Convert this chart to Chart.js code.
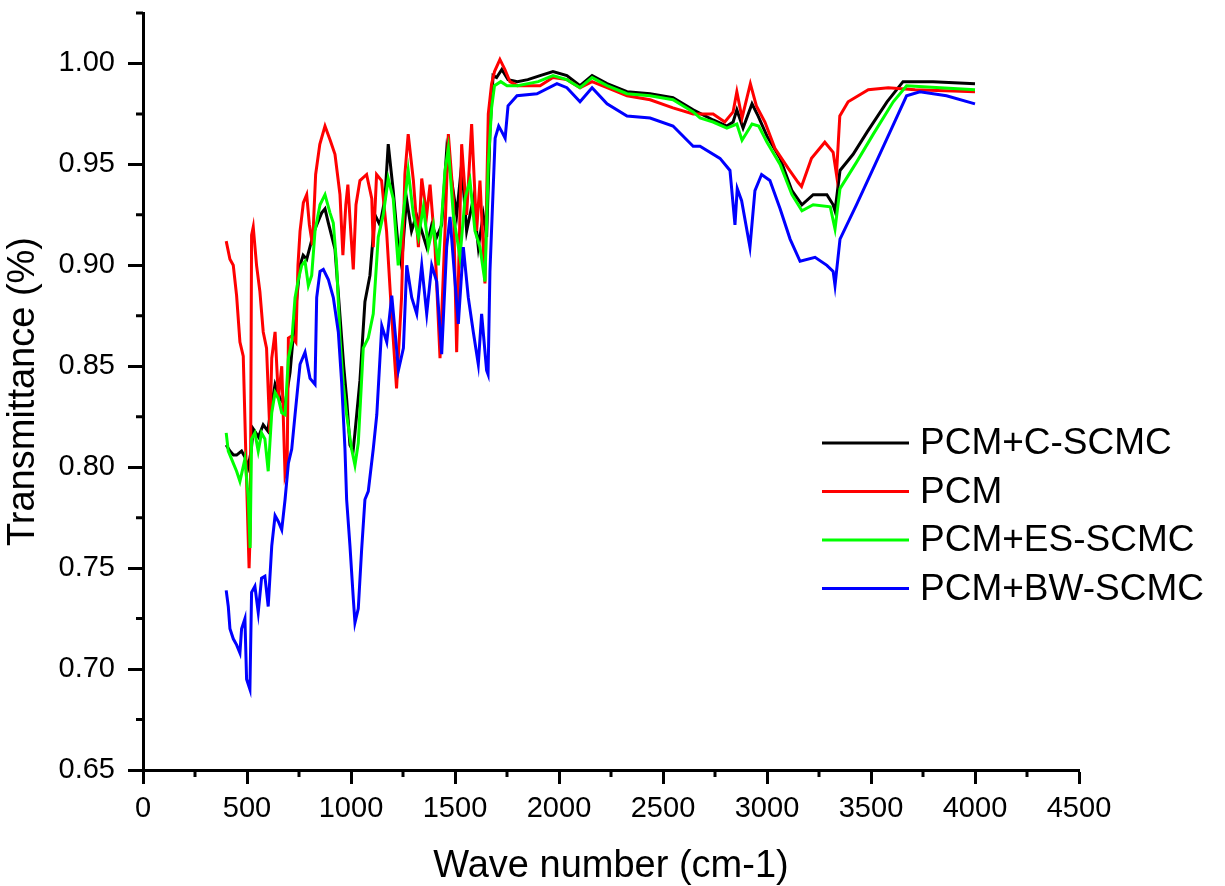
<!DOCTYPE html>
<html>
<head>
<meta charset="utf-8">
<script src="https://cdn.jsdelivr.net/npm/chart.js@4.4.1/dist/chart.umd.min.js"></script>
<style>
  html, body { margin: 0; padding: 0; background: #fff; }
  #wrap { width: 1225px; height: 886px; }
</style>
</head>
<body>
<div id="wrap"><canvas id="c" width="1225" height="886"></canvas></div>
<script>
// ---- Data ----
const seriesNames = ["PCM+C-SCMC", "PCM", "PCM+ES-SCMC", "PCM+BW-SCMC"];
const seriesColors = ["#000000", "#ff0000", "#00ff00", "#0000ff"];

const cscmcWave = [400,418,435,450,474,490,505,520,530,555,578,600,620,635,659,683,707,731,755,770,787,810,827,859,875,891,923,947,965,979,995,1010,1019,1043,1067,1091,1115,1139,1163,1179,1203,1227,1243,1267,1291,1315,1340,1364,1388,1412,1436,1460,1484,1508,1532,1556,1588,1612,1636,1652,1668,1683,1700,1725,1755,1800,1850,1909,1971,2038,2101,2159,2231,2327,2438,2548,2645,2741,2807,2837,2855,2885,2928,2957,3000,3063,3120,3168,3222,3288,3318,3327,3351,3414,3481,3577,3654,3798,4000];
const cscmcT = [0.811,0.808,0.806,0.806,0.808,0.805,0.800,0.808,0.819,0.815,0.821,0.818,0.832,0.841,0.834,0.831,0.847,0.875,0.900,0.905,0.903,0.912,0.918,0.926,0.928,0.921,0.908,0.875,0.850,0.834,0.811,0.808,0.817,0.843,0.882,0.895,0.925,0.920,0.933,0.960,0.937,0.909,0.900,0.933,0.917,0.925,0.917,0.909,0.920,0.914,0.920,0.957,0.942,0.925,0.950,0.917,0.933,0.909,0.925,0.914,0.966,0.994,0.993,0.997,0.992,0.991,0.992,0.994,0.996,0.994,0.989,0.994,0.990,0.986,0.985,0.983,0.977,0.972,0.969,0.971,0.977,0.968,0.980,0.974,0.964,0.953,0.937,0.930,0.935,0.935,0.930,0.927,0.947,0.955,0.966,0.981,0.991,0.991,0.990];

const pcmWave = [400,418,434,450,466,482,496,503,510,516,522,530,546,562,578,594,610,619,635,651,667,683,693,699,715,735,745,755,771,787,800,815,830,850,875,900,923,947,961,975,985,1000,1011,1024,1043,1075,1100,1107,1123,1147,1171,1195,1219,1243,1259,1275,1300,1324,1340,1364,1380,1404,1428,1452,1468,1492,1508,1532,1556,1580,1604,1620,1644,1660,1676,1690,1716,1740,1764,1800,1850,1909,1971,2038,2101,2159,2231,2327,2438,2548,2645,2741,2797,2837,2855,2880,2920,2949,2990,3038,3102,3150,3166,3214,3278,3318,3334,3350,3390,3487,3583,3712,4000];
const pcmT = [0.912,0.903,0.900,0.885,0.862,0.855,0.800,0.775,0.750,0.770,0.915,0.919,0.900,0.887,0.867,0.859,0.817,0.854,0.867,0.834,0.850,0.796,0.800,0.864,0.865,0.862,0.900,0.917,0.931,0.935,0.920,0.910,0.945,0.960,0.969,0.962,0.955,0.935,0.905,0.930,0.940,0.915,0.898,0.930,0.942,0.945,0.933,0.909,0.945,0.942,0.917,0.876,0.839,0.884,0.945,0.965,0.942,0.909,0.943,0.925,0.940,0.909,0.854,0.917,0.965,0.933,0.857,0.960,0.925,0.970,0.917,0.942,0.891,0.975,0.990,0.996,1.002,0.997,0.991,0.989,0.989,0.989,0.993,0.992,0.988,0.991,0.988,0.984,0.982,0.978,0.975,0.975,0.971,0.976,0.986,0.973,0.990,0.979,0.971,0.958,0.948,0.941,0.939,0.953,0.961,0.956,0.945,0.974,0.981,0.987,0.988,0.987,0.986];

const esWave = [400,410,426,450,466,490,506,515,522,538,554,570,586,602,619,635,651,667,683,699,715,731,747,763,779,795,811,827,851,875,899,915,931,947,963,979,1003,1019,1035,1059,1083,1107,1131,1155,1179,1203,1227,1251,1275,1300,1324,1348,1372,1396,1420,1452,1468,1492,1524,1548,1572,1596,1620,1644,1660,1676,1690,1720,1750,1800,1900,1971,2038,2101,2159,2231,2327,2438,2548,2645,2678,2741,2807,2855,2880,2928,2960,3000,3063,3120,3168,3222,3304,3327,3351,3430,3511,3607,3671,4000];
const esT = [0.817,0.808,0.804,0.798,0.793,0.804,0.785,0.760,0.814,0.817,0.808,0.817,0.814,0.798,0.827,0.837,0.834,0.827,0.826,0.854,0.862,0.884,0.893,0.900,0.902,0.890,0.895,0.917,0.930,0.935,0.926,0.921,0.900,0.864,0.841,0.826,0.809,0.801,0.812,0.859,0.864,0.876,0.914,0.925,0.943,0.933,0.900,0.925,0.947,0.925,0.914,0.929,0.909,0.920,0.900,0.947,0.958,0.925,0.904,0.933,0.942,0.917,0.909,0.892,0.950,0.978,0.989,0.991,0.989,0.989,0.991,0.994,0.992,0.988,0.993,0.989,0.985,0.984,0.982,0.976,0.973,0.971,0.968,0.970,0.962,0.970,0.969,0.961,0.950,0.935,0.927,0.930,0.929,0.918,0.938,0.951,0.965,0.981,0.989,0.987];

const bwWave = [400,410,418,434,450,466,474,490,498,514,522,538,554,570,586,602,619,635,651,667,683,699,715,731,755,779,803,827,835,851,867,891,915,939,955,971,979,995,1011,1019,1035,1051,1067,1083,1107,1124,1148,1172,1196,1212,1228,1252,1268,1292,1316,1340,1364,1388,1412,1436,1460,1476,1500,1516,1540,1564,1588,1612,1628,1652,1659,1668,1693,1710,1726,1741,1755,1798,1894,1990,2038,2101,2159,2231,2327,2438,2548,2645,2678,2774,2822,2846,2857,2878,2918,2942,2974,3014,3063,3111,3159,3231,3288,3318,3327,3351,3430,3511,3591,3671,3735,3863,4000];
const bwT = [0.739,0.731,0.720,0.715,0.712,0.708,0.720,0.725,0.695,0.690,0.738,0.741,0.728,0.745,0.746,0.731,0.761,0.776,0.773,0.769,0.784,0.802,0.809,0.826,0.851,0.857,0.844,0.841,0.884,0.897,0.898,0.893,0.884,0.867,0.842,0.809,0.784,0.761,0.735,0.723,0.730,0.759,0.784,0.788,0.809,0.826,0.870,0.862,0.885,0.867,0.848,0.859,0.900,0.884,0.876,0.900,0.876,0.900,0.892,0.856,0.909,0.924,0.892,0.871,0.909,0.884,0.867,0.851,0.876,0.848,0.846,0.897,0.963,0.969,0.966,0.963,0.979,0.984,0.985,0.990,0.988,0.981,0.988,0.980,0.974,0.973,0.969,0.959,0.959,0.953,0.947,0.920,0.938,0.932,0.909,0.937,0.945,0.942,0.928,0.913,0.902,0.904,0.900,0.897,0.890,0.913,0.930,0.948,0.966,0.984,0.986,0.984,0.980];

const xMinorTicks = [250,750,1250,1750,2250,2750,3250,3750,4250];
const yMinorTicks = [0.675,0.725,0.775,0.825,0.875,0.925,0.975,1.025];

// ---- Build datasets ----
const waves = [cscmcWave, pcmWave, esWave, bwWave];
const trans = [cscmcT, pcmT, esT, bwT];
const drawOrder = [4, 3, 2, 1];
const datasets = seriesNames.map((name, k) => ({
  label: name,
  data: waves[k].map((w, i) => ({ x: w, y: trans[k][i] })),
  borderColor: seriesColors[k],
  backgroundColor: seriesColors[k],
  borderWidth: 3,
  pointRadius: 0,
  tension: 0,
  fill: false,
  order: drawOrder[k]
}));

const FONT = "'Liberation Sans', Arial, sans-serif";

const minorTicksPlugin = {
  id: 'minorTicks',
  afterDraw(chart) {
    const ctx = chart.ctx;
    const xs = chart.scales.x, ys = chart.scales.y;
    const area = chart.chartArea;
    ctx.save();
    ctx.strokeStyle = '#000';
    ctx.lineWidth = 3;
    ctx.lineCap = 'butt';
    ctx.beginPath();
    xMinorTicks.forEach(v => {
      const px = xs.getPixelForValue(v);
      ctx.moveTo(px, area.bottom);
      ctx.lineTo(px, area.bottom + 7);
    });
    yMinorTicks.forEach(v => {
      const py = ys.getPixelForValue(v);
      ctx.moveTo(area.left, py);
      ctx.lineTo(area.left - 7, py);
    });
    ctx.stroke();
    ctx.restore();
  }
};

const legendPlugin = {
  id: 'customLegend',
  afterDraw(chart) {
    const ctx = chart.ctx;
    const area = chart.chartArea;
    const x0 = area.left + 679, x1 = area.left + 766, tx = area.left + 777;
    const y0 = area.top + 430, dy = 48.5;
    ctx.save();
    ctx.font = "37px " + FONT;
    ctx.textBaseline = 'middle';
    ctx.textAlign = 'left';
    chart.data.datasets.forEach((ds, i) => {
      const y = y0 + i * dy;
      ctx.strokeStyle = ds.borderColor;
      ctx.lineWidth = 3;
      ctx.beginPath();
      ctx.moveTo(x0, y);
      ctx.lineTo(x1, y);
      ctx.stroke();
      ctx.fillStyle = '#000';
      ctx.fillText(ds.label, tx, y + 1);
    });
    ctx.restore();
  }
};

new Chart(document.getElementById('c'), {
  type: 'line',
  data: { datasets },
  plugins: [minorTicksPlugin, legendPlugin],
  options: {
    responsive: false,
    animation: false,
    events: [],
    layout: { padding: { top: 13, right: 146, left: 0, bottom: 0 } },
    plugins: { legend: { display: false }, tooltip: { enabled: false } },
    scales: {
      x: {
        type: 'linear',
        min: 0, max: 4500,
        border: { display: true, width: 3, color: '#000' },
        grid: { display: true, drawOnChartArea: false, drawTicks: true, tickLength: 14, tickWidth: 3, tickColor: '#000' },
        ticks: { stepSize: 500, color: '#000', padding: 8, maxRotation: 0, autoSkip: false,
                 font: { family: FONT, size: 29 }, callback: v => String(v) },
        title: { display: true, text: 'Wave number (cm-1)', color: '#000',
                 font: { family: FONT, size: 38, lineHeight: 1.0 }, padding: { top: 0, bottom: 0 } },
        afterFit: s => { s.height = 116; s.paddingLeft = 0; s.paddingRight = 0; }
      },
      y: {
        type: 'linear',
        min: 0.65, max: 1.025,
        border: { display: true, width: 3, color: '#000' },
        grid: { display: true, drawOnChartArea: false, drawTicks: true, tickLength: 15, tickWidth: 3, tickColor: '#000' },
        ticks: { stepSize: 0.05, includeBounds: false, color: '#000', padding: 13,
                 font: { family: FONT, size: 29 }, callback: v => Number(v).toFixed(2) },
        title: { display: true, text: 'Transmittance (%)', color: '#000',
                 font: { family: FONT, size: 38, lineHeight: 1.0 }, padding: { top: 5, bottom: 0 } },
        afterFit: s => { s.width = 143; s.paddingTop = 0; s.paddingBottom = 0; }
      }
    }
  }
});
</script>
</body>
</html>
